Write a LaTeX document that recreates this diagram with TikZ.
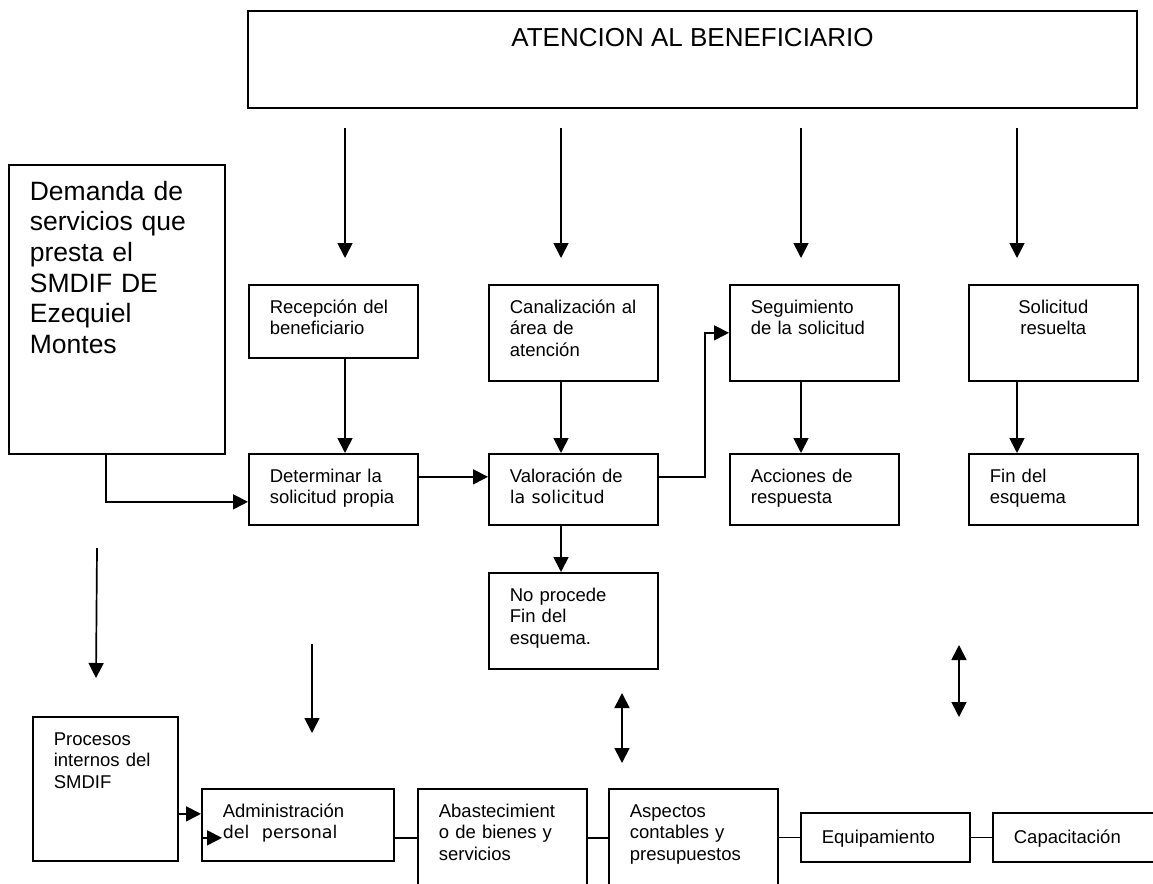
\documentclass[tikz,border=0pt]{standalone}
\usepackage{fontspec}
\setmainfont{Liberation Sans}
\newfontfamily\dejavu{DejaVu Sans}
\usetikzlibrary{arrows.meta}
\newcommand\chica{\fontsize{18.5}{21.5}\selectfont}
\newcommand\grande{\fontsize{26.5}{30.6}\selectfont}
\newcommand\verd{\dejavu\fontsize{17.5}{21.5}\selectfont}

\begin{document}
\begin{tikzpicture}[x=1pt,y=-1pt,line width=1.7pt,
                    >={Triangle[width=15pt,length=15pt]},
                    caja/.style={draw,anchor=north west,inner xsep=21pt,inner ysep=0pt,
                                 align=left,font=\chica,text height=28.5pt},
                    fila/.style={caja,text width=127pt},
                    flecha/.style={->},
                    doble/.style={<->}]
                    \useasboundingbox (0,0) rectangle (1153,883);
                    \node[draw,anchor=north,minimum width=889pt,inner sep=0pt,
                          text height=35.3pt,text depth=61.7pt,font=\fontsize{26}{30}\selectfont]
                          (atencion) at (692.5,10) {ATENCION AL BENEFICIARIO};
                    \node[caja,text width=174pt,text height=35.5pt,text depth=253.5pt,font=\grande]
                          (demanda) at (8,164) {Demanda de\\servicios que\\presta el\\SMDIF DE\\Ezequiel\\Montes};
                    \node[fila,text depth=44.5pt] (recepcion) at (248,284) {Recepción del\\beneficiario};
                    \node[fila,text depth=67.5pt] (canal) at (488,284) {Canalización al\\área de\\atención};
                    \node[fila,text depth=67.5pt] (seguim) at (729,284) {Seguimiento\\de la solicitud};
                    \node[fila,text depth=67.5pt,align=center] (resuelta) at (968,284) {Solicitud\\resuelta};
                    \node[fila,text depth=42.5pt] (determ) at (248,453) {Determinar la\\solicitud propia};
                    \node[fila,text depth=42.5pt] (valor) at (488,453) {Valoración de\\{\verd la solicitud}};
                    \node[fila,text depth=42.5pt] (acciones) at (729,453) {Acciones de\\respuesta};
                    \node[fila,text depth=42.5pt] (fin) at (968,453) {Fin del\\esquema};
                    \node[fila,text depth=67.5pt] (noprocede) at (488,572) {No procede\\Fin del\\esquema.};
                    \node[caja,text width=103pt,text depth=115.5pt] (procesos) at (32,716) {Procesos\\internos del\\SMDIF};
                    \node[caja,text width=150pt,text depth=43.5pt] (admin) at (201,788) {Administración\\{\verd del\ \ personal}};
                    \node[fila,text depth=83.5pt] (abasto) at (417,788) {Abastecimient\\o de bienes y\\servicios};
                    \node[fila,text depth=83.5pt] (aspectos) at (608,788) {Aspectos\\contables y\\presupuestos};
                    \node[fila,text height=30.5pt,text depth=18.5pt] (equipo) at (800,812) {Equipamiento};
                    \node[caja,text width=141pt,text height=30.5pt,text depth=18.5pt] (capacita) at (992,812) {Capacitación};

                    \foreach \x [count=\i] in {345,561,801,1017} {
                        \coordinate (desde\i) at (\x,128);
                        \coordinate (hasta\i) at (\x,258);
                        \draw[flecha] (desde\i) -- (hasta\i);
                    }
                    \draw[flecha] (recepcion.south -| desde1) -- (determ.north -| desde1);
                    \draw[flecha] (canal.south -| desde2) -- (valor.north -| desde2);
                    \draw[flecha] (seguim.south -| desde3) -- (acciones.north -| desde3);
                    \draw[flecha] (resuelta.south -| desde4) -- (fin.north -| desde4);
                    \draw[flecha] (valor.south -| desde2) -- (noprocede.north -| desde2);
                    \draw[flecha] ([xshift=-11pt]demanda.south) |- ([yshift=-12.5pt]determ.west);
                    \draw[flecha] ([yshift=12.5pt]determ.east) -- ([yshift=12.5pt]valor.west);
                    \draw[flecha] ([yshift=12.5pt]valor.east) -| ([xshift=-24pt]seguim.west) -- (seguim.west);

                    \coordinate (p1) at (97,548);
                    \coordinate (p2) at (96,678);
                    \coordinate (q1) at (312,644);
                    \coordinate (q2) at (312,733);
                    \coordinate (r1) at (622,693);
                    \coordinate (r2) at (622,763);
                    \coordinate (s1) at (959,645);
                    \coordinate (s2) at (959,717);
                    \draw[flecha] (p1) -- (p2);
                    \draw[flecha] (q1) -- (q2);
                    \draw[doble] (r1) -- (r2);
                    \draw[doble] (s1) -- (s2);

                    \draw[flecha] ([yshift=-25pt]procesos.east) -- ([yshift=11pt]admin.west);
                    \coordinate (punta) at ([xshift=21pt,yshift=-13pt]admin.west);
                    \draw[flecha] ([yshift=-13pt]admin.west) -- (punta);
                    \draw ([yshift=-13pt]admin.east) -- ([yshift=-13pt]admin.east -| abasto.west);
                    \draw ([yshift=-13pt]admin.east -| abasto.east) -- ([yshift=-13pt]admin.east -| aspectos.west);
                    \draw (equipo.west -| aspectos.east) -- (equipo.west);
                    \draw (equipo.east) -- (capacita.west);
                \end{tikzpicture}
\end{document}
